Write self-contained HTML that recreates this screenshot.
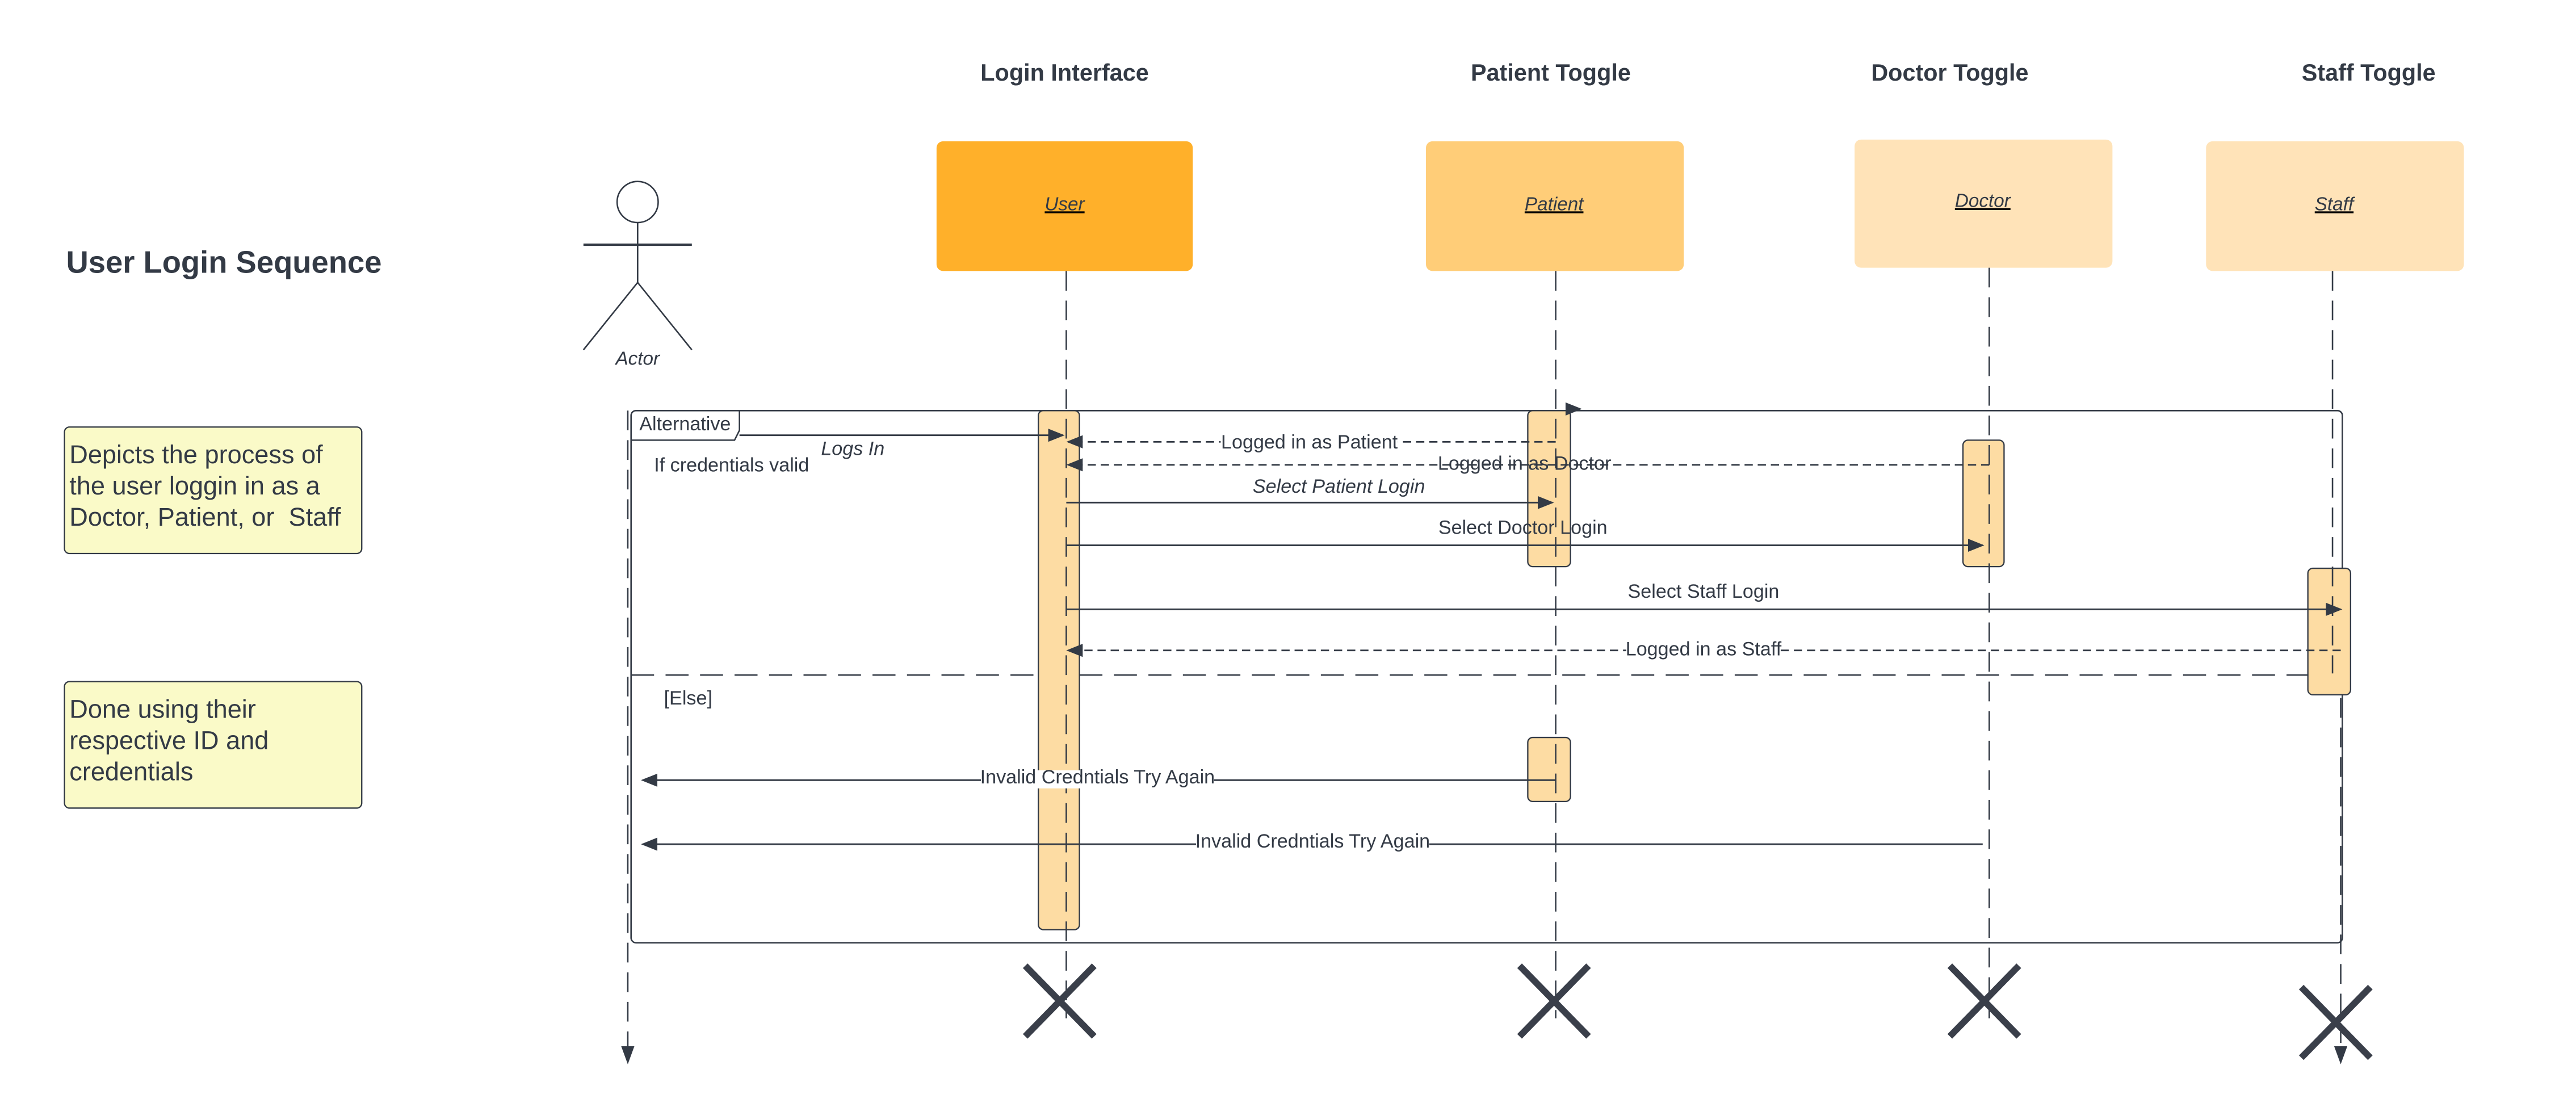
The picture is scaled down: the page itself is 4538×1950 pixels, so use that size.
<!DOCTYPE html>
<html><head><meta charset="utf-8"><style>
html,body{margin:0;padding:0;background:#fff;}
svg{display:block;}
text{font-family:"Liberation Sans",sans-serif;fill:#333a45;}
</style></head><body>
<svg width="4538" height="1950" viewBox="0 0 1568 674" xmlns="http://www.w3.org/2000/svg">
<defs>
<marker id="ah" markerWidth="10" markerHeight="8" refX="9" refY="4" orient="auto" markerUnits="userSpaceOnUse">
<path d="M0,0 L10,4 L0,8 Z" fill="#333a45"/>
</marker>
</defs>
<rect width="1568" height="674" fill="#fff"/>
<text x="40" y="166" font-size="18.8" font-weight="bold">User Login Sequence</text>
<g font-size="14.3" font-weight="bold" text-anchor="middle">
<text x="648" y="49">Login Interface</text>
<text x="944" y="49">Patient Toggle</text>
<text x="1187" y="49">Doctor Toggle</text>
<text x="1442" y="49">Staff Toggle</text>
</g>
<rect x="39" y="260" width="181" height="77" rx="3" fill="#fafac8" stroke="#333a45" stroke-width="0.8"/>
<g font-size="15.6">
<text x="42" y="282">Depicts the process of</text>
<text x="42" y="301">the user loggin in as a</text>
<text x="42" y="320">Doctor, Patient, or&#160; Staff</text>
</g>
<rect x="39" y="415" width="181" height="77" rx="3" fill="#fafac8" stroke="#333a45" stroke-width="0.8"/>
<g font-size="15.6">
<text x="42" y="437">Done using their</text>
<text x="42" y="456">respective ID and</text>
<text x="42" y="475">credentials</text>
</g>
<g stroke="#333a45" stroke-width="0.9" fill="none">
<circle cx="388" cy="123" r="12.5" fill="#fff"/>
<line x1="388" y1="135.5" x2="388" y2="172"/>
<line x1="355" y1="149" x2="421" y2="149" stroke-width="1.4"/>
<line x1="388" y1="172" x2="355" y2="213"/>
<line x1="388" y1="172" x2="421" y2="213"/>
</g>
<text x="388" y="222" font-size="11.5" font-style="italic" text-anchor="middle">Actor</text>
<rect x="570" y="86" width="156" height="79" rx="4" fill="#ffb02a"/>
<rect x="868" y="86" width="157" height="79" rx="4" fill="#ffcd78"/>
<rect x="1129" y="85" width="157" height="78" rx="4" fill="#ffe3b8"/>
<rect x="1343" y="86" width="157" height="79" rx="4" fill="#ffe3b8"/>
<g font-size="11.5" font-style="italic" text-anchor="middle" text-decoration="underline">
<text x="648" y="128">User</text>
<text x="946" y="128">Patient</text>
<text x="1207" y="126">Doctor</text>
<text x="1421" y="128">Staff</text>
</g>
<rect x="384" y="250" width="1042" height="324" rx="3" fill="none" stroke="#333a45" stroke-width="0.9"/>
<path d="M384,268 L447,268 L450,262 L450,250" fill="none" stroke="#333a45" stroke-width="0.9"/>
<text x="389" y="262" font-size="11.8">Alternative</text>
<text x="398" y="287" font-size="11.8">If credentials valid</text>
<text x="404" y="429" font-size="11.8">[Else]</text>
<line x1="384" y1="411" x2="1420" y2="411" stroke="#333a45" stroke-width="0.9" stroke-dasharray="14,7"/>
<g fill="#fddca3" stroke="#333a45" stroke-width="0.8">
<rect x="632" y="250" width="25" height="316" rx="3"/>
<rect x="930" y="250" width="26" height="95" rx="3"/>
<rect x="1195" y="268" width="25" height="77" rx="3"/>
<rect x="1405" y="346" width="26" height="77" rx="3"/>
<rect x="930" y="449" width="26" height="39" rx="3"/>
</g>
<g stroke="#333a45" stroke-width="0.9" stroke-dasharray="12,6" fill="none">
<line x1="649" y1="165" x2="649" y2="620"/>
<line x1="947" y1="165" x2="947" y2="620"/>
<line x1="1211" y1="163" x2="1211" y2="620"/>
<line x1="1420" y1="165" x2="1420" y2="410"/>
<line x1="382" y1="250" x2="382" y2="640"/>
<line x1="1425" y1="425" x2="1425" y2="640"/>
</g>
<path d="M378,637 L382,648 L386,637 Z" fill="#333a45"/>
<path d="M1421,637 L1425,648 L1429,637 Z" fill="#333a45"/>
<path d="M953,245 L963,249 L953,253 Z" fill="#333a45"/>
<g stroke="#333a45" stroke-width="1" fill="none">
<line x1="450" y1="265" x2="647" y2="265" marker-end="url(#ah)"/>
<line x1="947" y1="269" x2="650" y2="269" stroke-dasharray="5,3" marker-end="url(#ah)"/>
<line x1="1211" y1="283" x2="650" y2="283" stroke-dasharray="5,3" marker-end="url(#ah)"/>
<line x1="649" y1="306" x2="945" y2="306" marker-end="url(#ah)"/>
<line x1="649" y1="332" x2="1207" y2="332" marker-end="url(#ah)"/>
<line x1="649" y1="371" x2="1425" y2="371" marker-end="url(#ah)"/>
<line x1="1425" y1="396" x2="650" y2="396" stroke-dasharray="5,3" marker-end="url(#ah)"/>
<line x1="947" y1="475" x2="391" y2="475" marker-end="url(#ah)"/>
<line x1="1207" y1="514" x2="391" y2="514" marker-end="url(#ah)"/>
</g>
<g font-size="11.8" text-anchor="middle">
<text x="519" y="277" font-style="italic">Logs In</text>
<rect x="743" y="263" width="108" height="11" fill="#fff"/>
<text x="797" y="273">Logged in as Patient</text>
<text x="928" y="286">Logged in as Doctor</text>
<text x="815" y="300" font-style="italic">Select Patient Login</text>
<text x="927" y="325">Select Doctor Login</text>
<text x="1037" y="364">Select Staff Login</text>
<rect x="990" y="390" width="94" height="11" fill="#fff"/>
<text x="1037" y="399">Logged in as Staff</text>
<rect x="597" y="469" width="142" height="11" fill="#fff"/>
<text x="668" y="477">Invalid Credntials Try Again</text>
<rect x="728" y="508" width="142" height="11" fill="#fff"/>
<text x="799" y="516">Invalid Credntials Try Again</text>
</g>
<g stroke="#3a3f4a" stroke-width="4" fill="none">
<path d="M624,588 L666,631 M666,588 L624,631"/>
<path d="M925,588 L967,631 M967,588 L925,631"/>
<path d="M1187,588 L1229,631 M1229,588 L1187,631"/>
<path d="M1401,601 L1443,644 M1443,601 L1401,644"/>
</g>
</svg>
</body></html>
